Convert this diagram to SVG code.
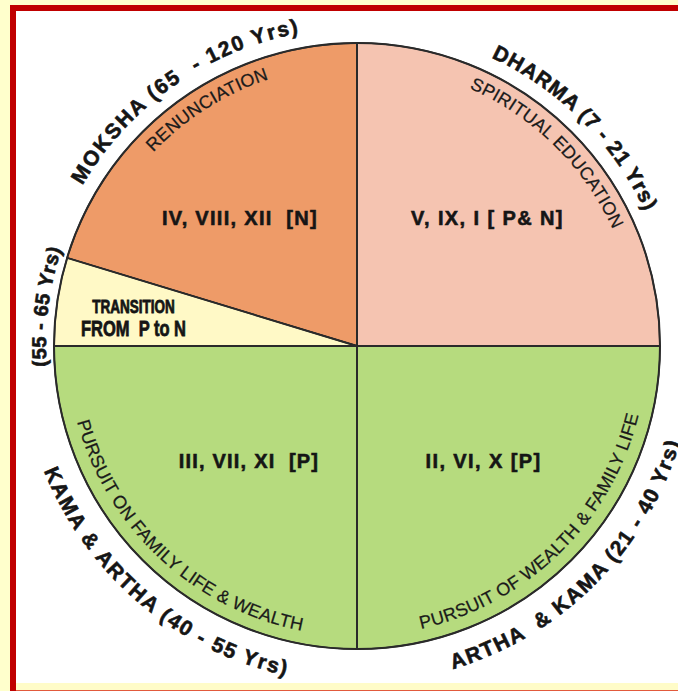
<svg xmlns="http://www.w3.org/2000/svg" xmlns:xlink="http://www.w3.org/1999/xlink" width="678" height="691" viewBox="0 0 678 691">
<style>
.heavy{font-family:"Liberation Sans",Arial,sans-serif;font-weight:bold;fill:#151515;stroke:#151515;stroke-width:0.6;white-space:pre;}
.arcin{font-family:"Liberation Sans",Arial,sans-serif;font-size:18px;fill:#1a1a1a;stroke:#1a1a1a;stroke-width:0.25;letter-spacing:0.2px;}
.outer{font-size:21px;}
.sector{stroke:#2a2a2a;stroke-width:1.5;stroke-linejoin:round;}
.div{stroke:#2a2a2a;stroke-width:2;fill:none;}
</style>
<defs>
<path id="oCW" d="M675,346 A318,318 0 1 1 39,346 A318,318 0 1 1 675,346"/>
<path id="oCW2" d="M668,346 A311,311 0 1 1 46,346 A311,311 0 1 1 668,346"/>
<path id="iCW" d="M638,346 A281,281 0 1 1 76,346 A281,281 0 1 1 638,346"/>
<path id="oCCW" d="M694,346 A337,337 0 1 0 20,346 A337,337 0 1 0 694,346"/>
<path id="iCCW" d="M647,346 A290,290 0 1 0 67,346 A290,290 0 1 0 647,346"/>
</defs>
<rect x="0" y="0" width="678" height="691" fill="#FFFFCC"/>
<rect x="10" y="5" width="700" height="700" fill="#C00000"/>
<rect x="16" y="11" width="680" height="672" fill="#FFFFFF"/>
<rect x="16" y="683" width="662" height="7" fill="#FFFCC8"/>
<rect x="16" y="690" width="662" height="1" fill="#E25A3C"/>

<g id="dharma">
<path class="sector" d="M357,346 L357,43 A303,303 0 0 1 660,346 Z" fill="#F5C4B1"/>
<text class="heavy" x="487.5" y="225" font-size="20" text-anchor="middle" letter-spacing="1.4">V, IX, I [ P&amp; N]</text>
<text class="arcin"><textPath xlink:href="#iCW" startOffset="1542.4" text-anchor="middle">SPIRITUAL EDUCATION</textPath></text>
</g>
<g id="moksha">
<path class="sector" d="M357,346 L357,43 A303,303 0 0 0 67.1,257.9 Z" fill="#EE9B68"/>
<text class="heavy" xml:space="preserve" x="240" y="225" font-size="20" text-anchor="middle" letter-spacing="1.3">IV, VIII, XII  [N]</text>
<text class="arcin"><textPath xlink:href="#iCW" startOffset="1165.3" text-anchor="middle">RENUNCIATION</textPath></text>
</g>
<g id="transition">
<path class="sector" d="M357,346 L67.1,257.9 A303,303 0 0 0 54,346 Z" fill="#FFF9C6"/>
<text class="heavy" font-size="13.5" text-anchor="middle" stroke-width="0.2" transform="translate(133.5,312.6) scale(1,1.3)">TRANSITION</text>
<text class="heavy" xml:space="preserve" font-size="16.5" text-anchor="middle" stroke-width="0.1" transform="translate(133.5,336) scale(1,1.3)">FROM  P to N</text>
</g>
<g id="kama-artha">
<path class="sector" d="M357,346 L54,346 A303,303 0 0 0 357,649 Z" fill="#B6DB7E"/>
<text class="heavy" xml:space="preserve" x="249" y="468" font-size="20" text-anchor="middle" letter-spacing="1.2">III, VII, XI  [P]</text>
<text class="arcin"><textPath xlink:href="#iCCW" startOffset="1149" text-anchor="middle">PURSUIT ON FAMILY LIFE &amp; WEALTH</textPath></text>
</g>
<g id="artha-kama">
<path class="sector" d="M357,346 L357,649 A303,303 0 0 0 660,346 Z" fill="#B6DB7E"/>
<text class="heavy" x="483.5" y="468" font-size="20" text-anchor="middle" letter-spacing="1.4">II, VI, X [P]</text>
<text class="arcin"><textPath xlink:href="#iCCW" startOffset="1591.3" text-anchor="middle">PURSUIT OF WEALTH &amp; FAMILY LIFE</textPath></text>
</g>

<g id="connectors">
<circle class="div" cx="357" cy="346" r="303"/>
<line class="div" x1="357" y1="43" x2="357" y2="649"/>
<line class="div" x1="54" y1="346" x2="660" y2="346"/>
<line class="div" x1="357" y1="346" x2="67.1" y2="257.9"/>
</g>

<g id="outer-labels">
<text class="heavy outer" xml:space="preserve" letter-spacing="1.8"><textPath xlink:href="#oCW" startOffset="1304.3" text-anchor="middle">MOKSHA (65  - 120 Yrs)</textPath></text>
<text class="heavy outer" letter-spacing="0.9"><textPath xlink:href="#oCW" startOffset="1748.3" text-anchor="middle">DHARMA (7 - 21 Yrs)</textPath></text>
<text class="heavy" font-size="20" letter-spacing="0.5"><textPath xlink:href="#oCW2" startOffset="1016.1" text-anchor="middle">(55 - 65 Yrs)</textPath></text>
<text class="heavy outer" letter-spacing="1.75"><textPath xlink:href="#oCCW" startOffset="1351.6" text-anchor="middle">KAMA &amp; ARTHA (40 - 55 Yrs)</textPath></text>
<text class="heavy outer" xml:space="preserve" letter-spacing="1.6"><textPath xlink:href="#oCCW" startOffset="1852.2" text-anchor="middle">ARTHA  &amp; KAMA (21 - 40 Yrs)</textPath></text>
</g>
</svg>
